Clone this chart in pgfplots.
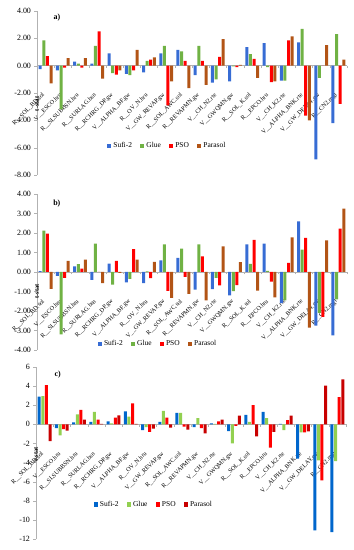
\documentclass[border=0pt]{standalone}
\usepackage{pgfplots}
\usepackage{pgfplotstable}
\pgfplotsset{compat=1.18}
\usepackage{fontspec}
\setmainfont{Liberation Serif}

\definecolor{sufiA}{RGB}{55,108,212}
\definecolor{glueA}{RGB}{112,178,68}
\definecolor{psoA}{RGB}{255,0,0}
\definecolor{parA}{RGB}{178,84,22}
\definecolor{sufiC}{RGB}{0,102,204}
\definecolor{glueC}{RGB}{146,208,80}
\definecolor{parC}{RGB}{200,0,0}

\pgfplotstableread{
x sufi glue pso parasol
0 -0.25 1.85 0.70 -1.30
1 -0.35 -3.20 -0.15 0.55
2 0.30 0.15 -0.15 0.55
3 0.15 1.45 2.50 -0.95
4 0.90 -0.55 -0.65 -0.35
5 -0.60 -0.70 -0.35 1.15
6 -0.50 0.35 0.45 0.60
7 0.90 1.45 -2.90 -1.15
8 1.15 1.05 0.35 -1.65
9 -0.70 1.45 0.35 -1.40
10 -1.25 -1.00 0.65 1.95
11 -1.15 -0.05 -0.10 0.05
12 1.35 0.85 0.50 -0.90
13 1.65 -0.10 -1.20 -1.15
14 -1.10 -1.10 1.85 2.15
15 1.70 2.70 -3.65 -4.00
16 -6.85 -0.90 0.00 1.50
17 -4.20 2.30 -2.80 0.45
}\dataA

\pgfplotstableread{
x sufi glue pso parasol
0 0.05 2.12 1.97 -0.86
1 -0.20 -3.20 -0.30 0.57
2 0.29 0.40 0.17 0.63
3 -0.40 1.46 0.00 -0.57
4 0.43 -0.65 0.57 -0.05
5 -0.53 -0.35 1.17 0.63
6 -0.57 0.03 -0.32 0.52
7 0.60 1.42 -0.97 -1.33
8 0.72 1.20 -0.25 -1.12
9 -0.90 1.42 0.80 -1.45
10 -0.88 -0.30 -0.68 1.32
11 -1.20 -0.98 -0.67 0.50
12 1.42 0.42 1.65 -0.95
13 1.45 0.06 -0.50 -1.30
14 -1.60 -1.45 0.47 1.77
15 2.60 1.15 1.75 -2.85
16 -2.75 -2.10 -2.30 1.62
17 -3.25 -1.40 2.22 3.25
}\dataB

\pgfplotstableread{
x sufi glue pso parasol
0 2.90 2.95 4.10 -1.75
1 -0.40 -1.15 -0.50 -0.65
2 0.20 1.05 1.50 0.50
3 0.25 1.30 0.50 0.05
4 0.30 0.10 0.70 0.95
5 1.35 0.80 2.20 0.05
6 -0.60 -0.30 -0.80 -0.45
7 0.25 1.40 0.70 -0.35
8 1.20 1.20 -0.25 -0.55
9 -0.30 0.65 -0.40 -0.95
10 0.10 0.05 0.30 0.50
11 -0.70 -2.00 -0.15 0.90
12 1.00 0.25 2.00 -1.25
13 1.30 0.65 -2.45 -0.80
14 0.05 -0.60 0.45 0.90
15 -3.60 -0.85 -0.85 -0.75
16 -11.10 -3.77 -5.86 4.05
17 -11.27 -3.84 2.85 4.70
}\dataC

\pgfplotsset{
  sqleg/.style={legend image code/.code={\fill[##1] (0bp,-2.2bp) rectangle (4.4bp,2.2bp);}},
  mybar/.style={
    scale only axis, width=310bp, xmin=-0.5, xmax=17.5,
    ybar=0.6bp, bar width=3bp,
    every axis plot post/.append style={sqleg, draw=none},
    axis x line*=middle, axis y line*=left,
    axis line style={gray!60, line width=0.5bp},
    xtick={0,...,17},
    xticklabels={R\_\_SOL\_BD.sol, V\_\_ESCO.hru, R\_\_SLSUBBSN.hru, R\_\_SURLAG.bsn, R\_\_RCHRG\_DP.gw, V\_\_ALPHA\_BF.gw, R\_\_OV\_N.hru, V\_\_GW\_REVAP.gw, R\_\_SOL\_AWC.sol, R\_\_REVAPMN.gw, V\_\_CH\_N2.rte, V\_\_GWQMN.gw, R\_\_SOL\_K.sol, R\_\_EPCO.hru, V\_\_CH\_K2.rte, V\_\_ALPHA\_BNK.rte, V\_\_GW\_DELAY.gw, R\_\_CN2.mgt},
    major x tick style={draw=none},
    minor xtick={-0.5,0.5,...,17.5},
    minor x tick style={gray!60},
    ytick style={gray!60},
    major tick length=2.5bp, minor tick length=2.5bp, tick align=outside,
    xticklabel shift=26bp,
    xticklabel style={font=\fontsize{6.2}{7}\selectfont, xshift=-2bp, rotate=45, anchor=east, inner sep=0pt},
    yticklabel style={font=\fontsize{8}{9}\selectfont},
    /pgf/number format/assume math mode=true,
    hide obscured x ticks=false, hide obscured y ticks=false,
    ylabel={t-stat},
    ylabel style={anchor=center, xshift=-24bp, font=\bfseries\fontsize{6.5}{7}\selectfont},
    legend columns=4,
    legend style={draw=none, fill=none, font=\fontsize{7.5}{8}\selectfont, anchor=center,
      /tikz/every even column/.append style={column sep=6bp}},
    clip=false,
  }
}

\begin{document}
\begin{tikzpicture}
\useasboundingbox (0,0) rectangle (354bp,550bp);
% panel a
\begin{axis}[mybar, at={(37bp,375bp)}, anchor=south west, height=164bp,
  ymin=-8, ymax=4, ytick={-8,-6,...,4},
  yticklabel style={/pgf/number format/.cd, fixed, fixed zerofill, precision=2},
  ylabel style={at={(axis description cs:0,0.58)}},
  legend style={at={(axis description cs:0.42,0.177)}}]
\addplot[fill=sufiA] table[x=x,y=sufi]{\dataA};
\addplot[fill=glueA] table[x=x,y=glue]{\dataA};
\addplot[fill=psoA] table[x=x,y=pso]{\dataA};
\addplot[fill=parA] table[x=x,y=parasol]{\dataA};
\legend{Sufi-2, Glue, PSO, Parasol}
\node[font=\bfseries\fontsize{8}{9}\selectfont] at (rel axis cs:0.064,0.957) {a)};
\end{axis}
% panel b
\begin{axis}[mybar, at={(37bp,200bp)}, anchor=south west, height=156bp,
  ymin=-4, ymax=4, ytick={-4,...,4},
  yticklabel style={/pgf/number format/.cd, fixed, fixed zerofill, precision=2},
  ylabel style={at={(axis description cs:0,0.53)}},
  legend style={at={(axis description cs:0.39,0.04)}}]
\addplot[fill=sufiA] table[x=x,y=sufi]{\dataB};
\addplot[fill=glueA] table[x=x,y=glue]{\dataB};
\addplot[fill=psoA] table[x=x,y=pso]{\dataB};
\addplot[fill=parA] table[x=x,y=parasol]{\dataB};
\legend{Sufi-2, Glue, PSO, Parasol}
\node[font=\bfseries\fontsize{8}{9}\selectfont] at (rel axis cs:0.064,0.936) {b)};
\end{axis}
% panel c
\begin{axis}[mybar, at={(36bp,11bp)}, anchor=south west, height=172bp,
  ymin=-12, ymax=6, ytick={-12,-10,...,6},
  yticklabel style={/pgf/number format/.cd, fixed, precision=0},
  ylabel style={at={(axis description cs:0,0.63)}},
  legend style={at={(axis description cs:0.38,0.20)}}]
\addplot[fill=sufiC] table[x=x,y=sufi]{\dataC};
\addplot[fill=glueC] table[x=x,y=glue]{\dataC};
\addplot[fill=psoA] table[x=x,y=pso]{\dataC};
\addplot[fill=parC] table[x=x,y=parasol]{\dataC};
\legend{Sufi-2, Glue, PSO, Parasol}
\node[font=\bfseries\fontsize{8}{9}\selectfont] at (rel axis cs:0.07,0.953) {c)};
\end{axis}
\end{tikzpicture}
\end{document}
